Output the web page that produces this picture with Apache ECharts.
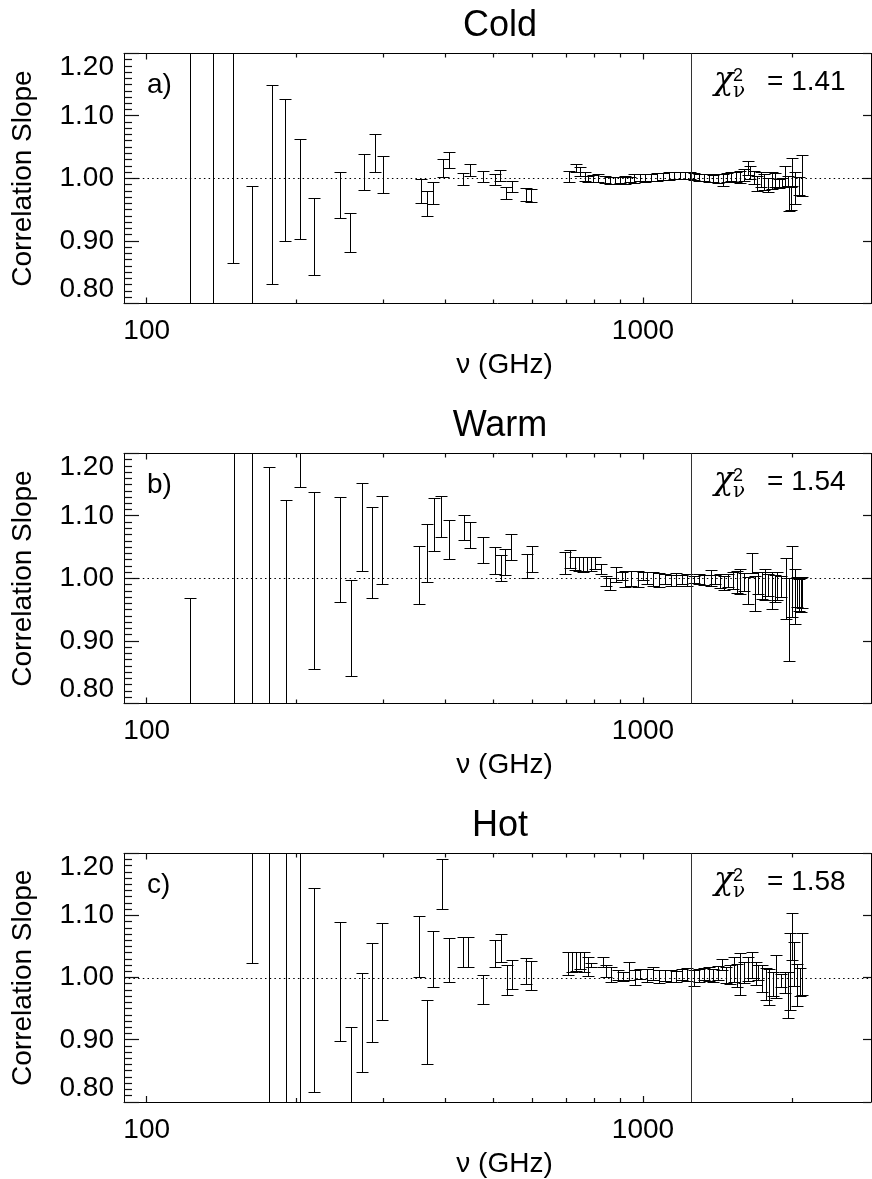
<!DOCTYPE html>
<html>
<head>
<meta charset="utf-8">
<script src="https://cdn.jsdelivr.net/npm/echarts@6/dist/echarts.min.js"></script>
<style>
html,body{margin:0;padding:0;background:#fff;}
#chart{width:872px;height:1179px;}
</style>
</head>
<body>
<div id="chart"></div>
<script>
// ---------------- data ----------------
const panelTitles = ['Cold', 'Warm', 'Hot'];
const panelLetters = ['a)', 'b)', 'c)'];
const chiValues = ['1.41', '1.54', '1.58'];
const xMajorTicks = [100, 1000];
const xMinorTicks = [200, 300, 400, 500, 600, 700, 800, 900, 2000];
const yMajorTicks = [0.8, 0.9, 1.0, 1.1, 1.2];
const yMinorTicks = [0.81, 0.82, 0.83, 0.84, 0.85, 0.86, 0.87, 0.88, 0.89,
                     0.91, 0.92, 0.93, 0.94, 0.95, 0.96, 0.97, 0.98, 0.99,
                     1.01, 1.02, 1.03, 1.04, 1.05, 1.06, 1.07, 1.08, 1.09,
                     1.11, 1.12, 1.13, 1.14, 1.15, 1.16, 1.17, 1.18, 1.19];
const boundaryFreq = [1250];
const referenceSlope = [1.0];

// [frequency (GHz), lower end, upper end]
const coldBars = [
  [122.7, 0.5, 1.5], [136.2, 0.5, 1.5], [149.5, 0.864, 1.4], [163.3, 0.6, 0.987],
  [179.2, 0.831, 1.149], [190.6, 0.900, 1.126], [204, 0.903, 1.062], [217.5, 0.845, 0.968],
  [245.3, 0.936, 1.009], [258, 0.882, 0.944], [275, 0.981, 1.039], [288.6, 1.009, 1.071],
  [300, 0.976, 1.035], [358.4, 0.960, 0.998], [368.6, 0.940, 0.979], [378.4, 0.958, 0.994],
  [396, 1.001, 1.031], [407.4, 1.016, 1.042], [434.7, 0.989, 1.008], [448.5, 1.004, 1.023],
  [477, 0.994, 1.012], [503.7, 0.989, 1.006], [515.6, 0.995, 1.013], [531.8, 0.967, 0.986],
  [546, 0.977, 0.996], [583, 0.964, 0.984], [597, 0.962, 0.982],
  [710, 0.994, 1.011], [736, 1.009, 1.022], [747, 1.003, 1.017], [765, 0.995, 1.009],
  [776, 0.994, 1.004], [795, 0.993, 1.005], [814, 0.994, 1.006], [839, 0.992, 1.004],
  [859, 0.990, 1.002], [879, 0.991, 1.001], [900, 0.992, 1.001], [921, 0.991, 1.003],
  [943, 0.993, 1.001], [962, 0.992, 1.006], [987, 0.995, 1.007], [1010, 0.994, 1.006],
  [1040, 0.995, 1.007], [1070, 0.996, 1.008], [1100, 0.997, 1.008], [1130, 0.997, 1.009],
  [1160, 0.998, 1.010], [1190, 0.998, 1.009], [1220, 0.999, 1.010], [1245, 0.998, 1.009],
  [1270, 0.997, 1.008], [1300, 0.996, 1.007], [1330, 0.995, 1.006], [1360, 0.994, 1.007],
  [1390, 0.993, 1.005], [1420, 0.992, 1.006], [1450, 0.987, 1.007], [1480, 0.993, 1.008],
  [1510, 0.995, 1.009], [1540, 0.994, 1.010], [1570, 0.992, 1.012], [1600, 0.996, 1.014],
  [1630, 1.005, 1.027], [1650, 0.998, 1.020], [1680, 0.990, 1.012], [1700, 0.979, 1.004],
  [1730, 0.985, 1.010], [1760, 0.981, 1.006], [1790, 0.977, 1.000], [1820, 0.983, 1.009],
  [1850, 0.986, 1.008], [1880, 0.984, 0.999], [1910, 0.985, 1.000], [1940, 0.985, 1.019],
  [1965, 0.987, 1.003], [1975, 0.947, 0.987], [1990, 0.949, 0.986], [2003, 0.988, 1.032],
  [2030, 0.958, 1.010], [2070, 0.973, 1.002], [2092, 0.971, 1.036]
];

const warmBars = [
  [122.7, 0.6, 0.968], [150, 0.5, 1.5], [163.3, 0.5, 1.5], [176.7, 0.6, 1.178],
  [190.9, 0.6, 1.124], [204.4, 1.145, 1.4], [217.8, 0.855, 1.138], [245.3, 0.962, 1.130],
  [259, 0.844, 0.997], [272.6, 1.011, 1.152], [285.5, 0.968, 1.114], [299, 0.990, 1.131],
  [354, 0.958, 1.051], [368, 0.993, 1.086], [380, 1.043, 1.128], [393.4, 1.066, 1.132],
  [407.4, 1.030, 1.093], [436.7, 1.061, 1.101], [448.5, 1.048, 1.089], [477, 1.024, 1.066],
  [503.7, 1.006, 1.049], [518, 0.995, 1.037], [529.3, 1.005, 1.047], [544.5, 1.029, 1.071],
  [586, 1.000, 1.039], [599, 1.009, 1.052],
  [698, 1.006, 1.041], [714, 1.016, 1.045], [730, 1.013, 1.033], [744, 1.011, 1.033],
  [758, 1.010, 1.033], [772, 1.011, 1.033], [787, 1.011, 1.033], [801, 1.015, 1.034],
  [826, 1.006, 1.023], [845, 0.988, 1.003], [859, 0.981, 1.000], [886, 0.994, 1.018],
  [908, 0.997, 1.009], [921, 0.986, 1.011], [950, 0.987, 1.012], [980, 0.985, 1.011],
  [1003, 0.997, 1.010], [1020, 0.990, 1.010], [1050, 0.988, 1.009], [1080, 0.985, 1.008],
  [1110, 0.990, 1.006], [1140, 0.987, 1.005], [1170, 0.988, 1.008], [1200, 0.991, 1.005],
  [1230, 0.988, 1.007], [1270, 0.992, 1.004], [1300, 0.990, 1.006], [1330, 0.989, 1.005],
  [1374, 0.987, 1.013], [1400, 0.990, 1.005], [1430, 0.984, 1.006], [1460, 0.981, 1.003],
  [1490, 0.986, 1.007], [1520, 0.983, 1.010], [1550, 0.976, 1.012], [1571, 0.975, 1.014],
  [1600, 0.979, 1.008], [1633, 0.958, 1.002], [1659, 1.008, 1.040], [1684, 0.948, 1.003],
  [1710, 0.975, 1.010], [1740, 0.967, 1.009], [1765, 0.965, 1.014], [1790, 0.972, 1.006],
  [1820, 0.951, 1.010], [1845, 0.962, 1.005], [1870, 0.965, 1.010], [1900, 0.970, 1.003],
  [1950, 0.935, 1.032], [1975, 0.868, 1.000], [2003, 0.938, 1.051], [2028, 0.926, 1.014],
  [2045, 0.954, 1.002], [2065, 0.948, 0.999], [2085, 0.946, 1.000], [2100, 0.952, 1.002]
];

const hotBars = [
  [163.3, 1.023, 1.4], [176.7, 0.5, 1.5], [190.9, 0.5, 1.5], [203.9, 0.5, 1.5],
  [217.8, 0.816, 1.143], [245.3, 0.897, 1.089], [259, 0.6, 0.920], [272.6, 0.847, 1.007],
  [285.5, 0.895, 1.055], [299, 0.931, 1.087], [354, 1.001, 1.098], [368, 0.861, 0.964],
  [378, 0.984, 1.075], [394.5, 1.110, 1.190], [407.4, 0.992, 1.063], [434.7, 1.016, 1.065],
  [445, 1.017, 1.064], [477, 0.957, 1.004], [503.7, 1.016, 1.060], [518, 1.025, 1.070],
  [533, 0.972, 1.019], [546, 0.981, 1.027], [583, 0.989, 1.031], [597, 0.979, 1.026],
  [708, 1.004, 1.041], [722, 1.008, 1.041], [736, 1.010, 1.040], [748, 1.014, 1.040],
  [763, 1.009, 1.040], [777, 1.002, 1.032], [789, 1.016, 1.023], [833, 1.016, 1.032],
  [846, 1.000, 1.019], [866, 0.992, 1.016], [893, 0.996, 1.012], [914, 0.994, 1.008],
  [938, 0.995, 1.024], [965, 0.988, 1.011], [988, 0.997, 1.013], [1020, 0.993, 1.013],
  [1050, 0.995, 1.016], [1080, 0.991, 1.011], [1110, 0.994, 1.012], [1140, 0.992, 1.012],
  [1170, 0.992, 1.010], [1200, 0.996, 1.013], [1230, 0.994, 1.015], [1270, 0.986, 1.011],
  [1300, 0.993, 1.014], [1330, 0.995, 1.015], [1360, 0.994, 1.016], [1390, 0.992, 1.013],
  [1420, 0.996, 1.018], [1443, 1.011, 1.029], [1470, 0.990, 1.016], [1500, 0.989, 1.020],
  [1530, 0.993, 1.032], [1550, 0.985, 1.022], [1571, 0.972, 1.039], [1600, 0.991, 1.025],
  [1630, 0.994, 1.032], [1660, 0.998, 1.040], [1690, 0.988, 1.024], [1710, 0.995, 1.020],
  [1740, 0.977, 1.019], [1770, 0.963, 1.015], [1800, 0.956, 1.013], [1830, 0.970, 1.008],
  [1862, 0.966, 1.036], [1900, 0.985, 1.005], [1935, 0.975, 1.008], [1960, 0.934, 1.009],
  [1980, 0.948, 1.072], [2003, 1.028, 1.104], [2020, 0.986, 1.056], [2051, 0.953, 1.021],
  [2075, 0.970, 1.015], [2098, 0.972, 1.071]
];

const panelBars = [coldBars, warmBars, hotBars];

// ---------------- layout / style ----------------
const X_MIN = 90, X_MAX = 2880, Y_MIN = 0.8, Y_MAX = 1.2, Y_STEP = 0.1;
const FONT = '"Liberation Sans", Arial, Helvetica, sans-serif';
const SERIF = '"DejaVu Serif", "Liberation Serif", serif';
const PANEL_STEP = 400;
const L0 = Math.log10(X_MIN), L1 = Math.log10(X_MAX);
const LINE = { stroke: '#000', lineWidth: 1 };
const TICK = { stroke: '#111', lineWidth: 1.2 };

function crisp(v) { return Math.round(v - 0.5) + 0.5; }

function renderErrorBar(params, api) {
  const f = api.value(0), lo = api.value(1), hi = api.value(2);
  const a = api.coord([f, lo]);
  const b = api.coord([f, hi]);
  const x = crisp(a[0]);
  const ya = crisp(a[1]), yb = crisp(b[1]);
  const h = 6;
  return {
    type: 'group',
    children: [
      { type: 'line', shape: { x1: x, y1: ya, x2: x, y2: yb }, style: LINE },
      { type: 'line', shape: { x1: x - h, y1: ya, x2: x + h, y2: ya }, style: LINE },
      { type: 'line', shape: { x1: x - h, y1: yb, x2: x + h, y2: yb }, style: LINE }
    ]
  };
}

// inward tick marks on the bottom and top frame edges at frequency values
function makeXTickRenderer(len) {
  return function (params, api) {
    const cs = params.coordSys;
    const x = crisp(api.coord([api.value(0), Y_MIN])[0]);
    const bottom = cs.y + cs.height, top = cs.y;
    return {
      type: 'group',
      children: [
        { type: 'line', shape: { x1: x, y1: bottom, x2: x, y2: bottom - len }, style: TICK },
        { type: 'line', shape: { x1: x, y1: top, x2: x, y2: top + len }, style: TICK }
      ]
    };
  };
}
// inward tick marks on the left (and optionally right) frame edges at slope values
function makeYTickRenderer(leftLen, rightLen) {
  return function (params, api) {
    const cs = params.coordSys;
    const y = crisp(api.coord([X_MIN, api.value(1)])[1]);
    const left = cs.x, right = cs.x + cs.width;
    const children = [{ type: 'line', shape: { x1: left, y1: y, x2: left + leftLen, y2: y }, style: TICK }];
    if (rightLen > 0) {
      children.push({ type: 'line', shape: { x1: right, y1: y, x2: right - rightLen, y2: y }, style: TICK });
    }
    return { type: 'group', children: children };
  };
}

const grids = [], xAxes = [], yAxes = [], series = [], graphics = [];
const black = { color: '#000', width: 1 };
const txt = { fontSize: 28, color: '#000', fontFamily: FONT };

for (let i = 0; i < 3; i++) {
  const top = 53.5 + PANEL_STEP * i;
  grids.push({ left: 124, right: 1, top: top, height: 250 });
  const xb = xAxes.length;
  // data axis (log), bottom frame line
  xAxes.push({
    gridIndex: i, type: 'log', logBase: 10, min: X_MIN, max: X_MAX, position: 'bottom',
    axisLine: { show: true, onZero: false, lineStyle: black },
    axisTick: { show: false }, axisLabel: { show: false }, splitLine: { show: false }
  });
  // decade labels + axis title
  xAxes.push({
    gridIndex: i, type: 'value', min: L0, max: L1, position: 'bottom',
    axisLine: { show: false, onZero: false }, axisTick: { show: false },
    axisLabel: {
      show: true, customValues: xMajorTicks.map(Math.log10),
      formatter: v => String(Math.round(Math.pow(10, v))),
      fontSize: 28, color: '#000', fontFamily: FONT, margin: 14
    },
    splitLine: { show: false },
    name: 'ν (GHz)', nameLocation: 'middle', nameGap: 48,
    nameTextStyle: Object.assign({ padding: [0, 0, 0, 14] }, txt)
  });
  // top frame line
  xAxes.push({
    gridIndex: i, type: 'value', min: L0, max: L1, position: 'top',
    axisLine: { show: true, onZero: false, lineStyle: black },
    axisTick: { show: false }, axisLabel: { show: false }, splitLine: { show: false }
  });

  const yb = yAxes.length;
  yAxes.push({
    gridIndex: i, type: 'value', min: Y_MIN, max: Y_MAX, interval: Y_STEP, position: 'left',
    axisLine: { show: true, onZero: false, lineStyle: black },
    axisTick: { show: false },
    axisLabel: {
      fontSize: 28, color: '#000', fontFamily: FONT, margin: 10,
      formatter: v => v.toFixed(2),
      verticalAlignMinLabel: 'bottom', verticalAlignMaxLabel: 'top'
    },
    splitLine: { show: false },
    name: 'Correlation Slope', nameLocation: 'middle', nameGap: 87, nameTextStyle: txt
  });
  yAxes.push({
    gridIndex: i, type: 'value', min: Y_MIN, max: Y_MAX, interval: Y_STEP, position: 'right',
    axisLine: { show: true, onZero: false, lineStyle: black },
    axisTick: { show: false }, axisLabel: { show: false }, splitLine: { show: false }
  });

  const common = { type: 'custom', xAxisIndex: xb, yAxisIndex: yb, silent: true, clip: false, z: 3 };
  series.push(Object.assign({}, common, { data: xMajorTicks.map(v => [v, Y_MIN]), encode: { x: 0, y: 1 }, renderItem: makeXTickRenderer(6) }));
  series.push(Object.assign({}, common, { data: xMinorTicks.map(v => [v, Y_MIN]), encode: { x: 0, y: 1 }, renderItem: makeXTickRenderer(4) }));
  series.push(Object.assign({}, common, { data: yMajorTicks.map(v => [X_MIN, v]), encode: { x: 0, y: 1 }, renderItem: makeYTickRenderer(15, 8) }));
  series.push(Object.assign({}, common, { data: yMinorTicks.map(v => [X_MIN, v]), encode: { x: 0, y: 1 }, renderItem: makeYTickRenderer(8, 0) }));

  series.push({
    type: 'custom', xAxisIndex: xb, yAxisIndex: yb, data: panelBars[i],
    encode: { x: 0, y: [1, 2] }, renderItem: renderErrorBar, clip: true, silent: true,
    markLine: {
      silent: true, symbol: 'none', animation: false, label: { show: false },
      data: [
        ...boundaryFreq.map(f => ({ xAxis: f, lineStyle: { type: 'solid', color: '#333', width: 1 } })),
        ...referenceSlope.map(s => ({ yAxis: s, lineStyle: { type: [1.5, 3.2], color: '#000', width: 1 } }))
      ]
    }
  });

  const dy = PANEL_STEP * i;
  graphics.push({ type: 'text', x: 500, y: 26 + dy, silent: true,
    style: { text: panelTitles[i], fontSize: 36, fontFamily: FONT, fill: '#000', align: 'center', verticalAlign: 'middle' } });
  graphics.push({ type: 'text', x: 147, y: 85 + dy, silent: true,
    style: { text: panelLetters[i], fontSize: 28, fontFamily: FONT, fill: '#000', align: 'left', verticalAlign: 'middle' } });
  graphics.push({ type: 'text', x: 714, y: 81 + dy, silent: true,
    style: { text: 'χ', fontSize: 32, fontFamily: SERIF, fontStyle: 'italic', fill: '#000', align: 'left', verticalAlign: 'middle' } });
  graphics.push({ type: 'text', x: 733, y: 76.5 + dy, silent: true,
    style: { text: '2', fontSize: 18, fontFamily: FONT, fill: '#000', align: 'left', verticalAlign: 'middle' } });
  graphics.push({ type: 'text', x: 733, y: 92 + dy, silent: true,
    style: { text: 'ν', fontSize: 20, fontFamily: SERIF, fill: '#000', align: 'left', verticalAlign: 'middle' } });
  graphics.push({ type: 'text', x: 767, y: 82 + dy, silent: true,
    style: { text: '= ' + chiValues[i], fontSize: 28, fontFamily: FONT, fill: '#000', align: 'left', verticalAlign: 'middle' } });
}

const chart = echarts.init(document.getElementById('chart'), null, { renderer: 'canvas' });
chart.setOption({
  backgroundColor: '#fff',
  animation: false,
  grid: grids,
  xAxis: xAxes,
  yAxis: yAxes,
  series: series,
  graphic: graphics
});
</script>
</body>
</html>
